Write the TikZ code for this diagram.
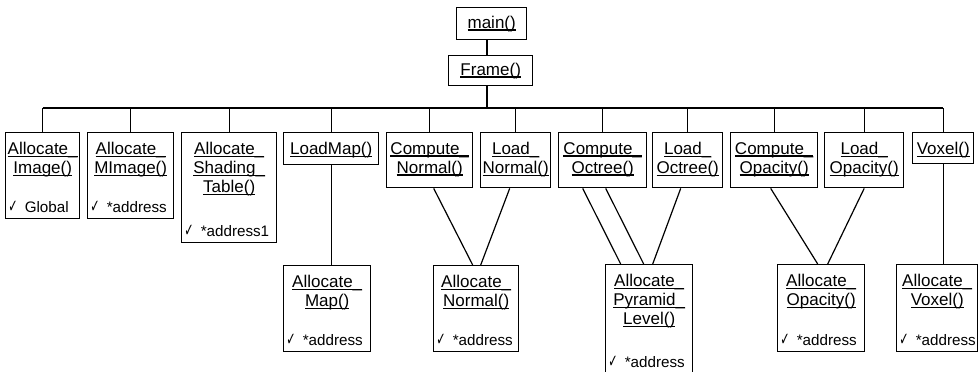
\documentclass[tikz,border=0pt]{standalone}
\usepackage{fontspec}
\setmainfont{Liberation Sans}
\newfontfamily\symfont{DejaVu Sans}
\newcommand{\chk}{\scalebox{0.62}[1]{\symfont\fontsize{9}{9}\selectfont ✓}\hspace{3.5pt}}
\newcommand{\ul}[1]{\setbox0\hbox{#1}\rlap{\rule[-1.2pt]{\wd0}{0.6pt}}\box0}

\begin{document}
\begin{tikzpicture}[
        x=0.5pt, y=-0.5pt,
        font=\fontsize{8.5}{9.5}\selectfont,
        fnbox/.style={draw, line width=0.7pt, inner sep=0pt, anchor=north west},
        fntitle/.style={anchor=north, align=center, inner sep=0pt, yshift=-5pt},
        fnnote/.style={anchor=base west, inner sep=0pt, xshift=1.5pt, yshift=3.5pt,
                       font=\fontsize{7.6}{9}\selectfont},
        link/.style={line width=0.6pt}
    ]
    \useasboundingbox (0,0) rectangle (979,371);

    %% Root

    \node[fnbox, minimum width=35pt, minimum height=16pt] (mn) at (456,7) {\ul{main()}};
    \node[fnbox, minimum width=42pt, minimum height=15pt] (fr) at (448,55) {\ul{Frame()}};

    %% Called by Frame()

    \node[fnbox, minimum width=37pt, minimum height=43pt] (ai) at (5,132) {};
    \node[fntitle] (ai-t) at (ai.north) {\ul{Allocate\_}\\\ul{Image()}};
    \node[fnnote] (ai-n) at (ai.south west) {\chk Global};

    \node[fnbox, minimum width=43pt, minimum height=43pt] (am) at (87,132) {};
    \node[fntitle] (am-t) at (am.north) {\ul{Allocate\_}\\\ul{MImage()}};
    \node[fnnote] (am-n) at (am.south west) {\chk *address};

    \node[fnbox, minimum width=47.5pt, minimum height=55pt] (ast) at (181,132) {};
    \node[fntitle] (ast-t) at (ast.north) {\ul{Allocate\_}\\\ul{Shading\_}\\\ul{Table()}};
    \node[fnnote] (ast-n) at (ast.south west) {\chk *address1};

    \node[fnbox, minimum width=47.5pt, minimum height=16pt] (lm) at (283,132) {};
    \node[fntitle] (lm-t) at (lm.north) {\ul{LoadMap()}};

    \node[fnbox, minimum width=43pt, minimum height=27.5pt] (cn) at (386,132) {};
    \node[fntitle] (cn-t) at (cn.north) {\ul{Compute\_}\\\ul{Normal()}};

    \node[fnbox, minimum width=35pt, minimum height=27.5pt] (ln) at (480,132) {};
    \node[fntitle] (ln-t) at (ln.north) {\ul{Load\_}\\\ul{Normal()}};

    \node[fnbox, minimum width=44pt, minimum height=27.5pt] (co) at (558,132) {};
    \node[fntitle] (co-t) at (co.north) {\ul{Compute\_}\\\ul{Octree()}};

    \node[fnbox, minimum width=35pt, minimum height=27.5pt] (lo) at (652,132) {};
    \node[fntitle] (lo-t) at (lo.north) {\ul{Load\_}\\\ul{Octree()}};

    \node[fnbox, minimum width=43.5pt, minimum height=27.5pt] (cop) at (730,132) {};
    \node[fntitle] (cop-t) at (cop.north) {\ul{Compute\_}\\\ul{Opacity()}};

    \node[fnbox, minimum width=39.5pt, minimum height=27.5pt] (lop) at (824,132) {};
    \node[fntitle] (lop-t) at (lop.north) {\ul{Load\_}\\\ul{Opacity()}};

    \node[fnbox, minimum width=30.5pt, minimum height=15.5pt] (vx) at (912,132) {};
    \node[fntitle] (vx-t) at (vx.north) {\ul{Voxel()}};

    %% Allocation calls

    \node[fnbox, minimum width=43.5pt, minimum height=43pt] (amap) at (283,265) {};
    \node[fntitle] (amap-t) at (amap.north) {\ul{Allocate\_}\\\ul{Map()}};
    \node[fnnote] (amap-n) at (amap.south west) {\chk *address};

    \node[fnbox, minimum width=42.5pt, minimum height=43pt] (anorm) at (433,265) {};
    \node[fntitle] (anorm-t) at (anorm.north) {\ul{Allocate\_}\\\ul{Normal()}};
    \node[fnnote] (anorm-n) at (anorm.south west) {\chk *address};

    \node[fnbox, minimum width=43.5pt, minimum height=56pt] (apl) at (605,264) {};
    \node[fntitle] (apl-t) at (apl.north) {\ul{Allocate\_}\\\ul{Pyramid\_}\\\ul{Level()}};
    \node[fnnote, yshift=1.5pt] (apl-n) at (apl.south west) {\chk *address};

    \node[fnbox, minimum width=43.5pt, minimum height=43.5pt] (aop) at (777,264) {};
    \node[fntitle] (aop-t) at (aop.north) {\ul{Allocate\_}\\\ul{Opacity()}};
    \node[fnnote] (aop-n) at (aop.south west) {\chk *address};

    \node[fnbox, minimum width=40.5pt, minimum height=43.5pt] (avx) at (896,264) {};
    \node[fntitle] (avx-t) at (avx.north) {\ul{Allocate\_}\\\ul{Voxel()}};
    \node[fnnote] (avx-n) at (avx.south west) {\chk *address};

    %% Call tree

    \coordinate (bus) at (487,108);
    \draw[link] (mn.south -| bus) -- (fr.north -| bus);
    \draw[link] (fr.south -| bus) -- (bus);
    \draw[link] (ai.north |- bus) -- (vx.north |- bus);
    \foreach \n in {ai,am,ast,lm,cn,ln,co,lo,cop,lop,vx}
        \draw[link] (\n.north) -- (\n.north |- bus);

    \draw[link] (lm.south) -- (lm.south |- amap.north);
    \draw[link] (vx.south) -- (vx.south |- avx.north);
    \draw[link] ([xshift=2pt]cn.south) -- ([xshift=-1.75pt]anorm.north);
    \draw[link] ([xshift=-3pt]ln.south) -- ([xshift=2.25pt]anorm.north);
    \draw[link] ([xshift=-10pt]co.south) -- ([xshift=-14.25pt]apl.north);
    \draw[link] ([xshift=1.5pt]co.south) -- ([xshift=-2.75pt]apl.north);
    \draw[link] ([xshift=-3.5pt]lo.south) -- ([xshift=1.75pt]apl.north);
    \draw[link] ([xshift=-1.75pt]cop.south) -- ([xshift=-1.75pt]aop.north);
    \draw[link] (lop.south) -- ([xshift=3.25pt]aop.north);

\end{tikzpicture}
\end{document}
